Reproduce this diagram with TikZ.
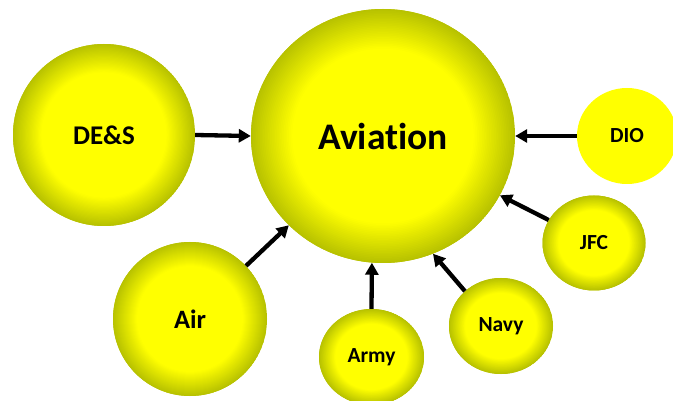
\documentclass[tikz,border=0pt]{standalone}
\usepackage{fontspec}
\setmainfont[Ligatures=NoCommon]{Carlito}
\usetikzlibrary{shapes.geometric,arrows.meta,calc}
\definecolor{edgecol}{RGB}{184,194,0}
\definecolor{ballyellow}{RGB}{255,255,0}
\tikzset{
  gradfill/.style={path picture={
    \foreach \i in {0,...,24}{
      \pgfmathsetmacro\f{1-0.013*\i}
      \pgfmathtruncatemacro\pc{100-4.2*\i}
      \fill[edgecol!\pc!ballyellow]
        let \p1=(path picture bounding box.north east),
            \p2=(path picture bounding box.center) in
        (\p2) ellipse [x radius={(\x1-\x2)*\f}, y radius={(\y1-\y2)*\f}];
    }}},
  ball/.style={ellipse, inner sep=0pt, fill=edgecol, gradfill, font=\bfseries\fontsize{#1}{#1}\selectfont},
  flatball/.style={ellipse, inner sep=0pt, fill=ballyellow, font=\bfseries\fontsize{#1}{#1}\selectfont},
  link/.style={line width=4.3pt, -{Triangle[length=12pt,width=13pt]}}
}
\begin{document}
\begin{tikzpicture}[x=1pt,y=-1pt]
\useasboundingbox (0,0) rectangle (673,401);
\node[ball=37.5, minimum width=264pt, minimum height=254pt] (aviation) at (383,136) {Aviation};
\node[ball=27, minimum width=182pt, minimum height=182pt] (des) at (104,135) {DE\&S};
\node[flatball=21.5, minimum width=100pt, minimum height=96pt] (dio) at (627,136) {DIO};
\node[ball=21.5, minimum width=103pt, minimum height=95pt] (jfc) at (594,243) {JFC};
\node[ball=21.5, minimum width=104pt, minimum height=96pt] (navy) at (501,326) {Navy};
\node[ball=21.5, minimum width=105pt, minimum height=96pt] (army) at (371.5,357) {Army};
\node[ball=26.5, minimum width=154pt, minimum height=154pt] (air) at (190,319) {Air};
\draw[link] (des.east) -- (aviation.west);
\draw[link] (dio.west) -- (aviation.east);
\draw[link] (jfc) -- (aviation);
\draw[link] (navy.136) -- (aviation.-67);
\draw[link] (army.north) -- (aviation.-95);
\draw[link] (air) -- (aviation);
\end{tikzpicture}
\end{document}
